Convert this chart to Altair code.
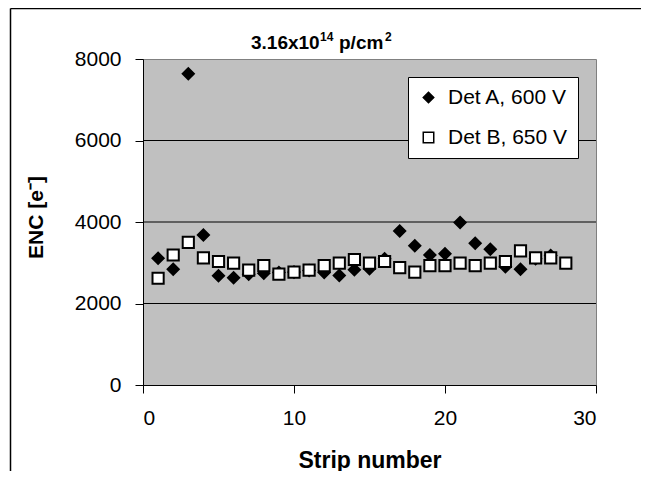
import altair as alt
import pandas as pd

# ---- data ----
strips_a = list(range(1, 28))
enc_a = [3110, 2840, 7640, 3680, 2680, 2630, 2720, 2740, 2760, 2770,
         2810, 2760, 2690, 2830, 2850, 3100, 3780, 3420, 3190, 3220,
         3990, 3480, 3330, 2900, 2840, 3100, 3180]
strips_b = list(range(1, 29))
enc_b = [2620, 3190, 3500, 3120, 3030, 2990, 2820, 2930, 2720, 2770,
         2820, 2930, 2990, 3080, 2990, 3030, 2880, 2770, 2930, 2930,
         2990, 2930, 2990, 3030, 3290, 3120, 3120, 2990]
series_names = ["Det A, 600 V", "Det B, 650 V"]
x_ticks = [0, 10, 20, 30]
y_ticks = [0, 2000, 4000, 6000, 8000]
grid_values = [2000, 4000, 6000]
# title "3.16x10^14 p/cm^2" split into normal / superscript pieces
title_base = "3.16x10"
title_exp = "14"
title_unit = "p/cm"
title_unit_exp = "2"
x_title = "Strip number"
y_title = "ENC [e\u207b]"

FONT = "Liberation Sans"

df = pd.DataFrame({
    "strip": strips_a + strips_b,
    "enc": enc_a + enc_b,
    "series": [series_names[0]] * len(strips_a) + [series_names[1]] * len(strips_b),
})

x_scale = alt.Scale(domain=[0, 30], nice=False, zero=False)
y_scale = alt.Scale(domain=[0, 8000], nice=False)

x_axis = alt.Axis(values=x_ticks, grid=False, domainColor="black", tickColor="black",
                  tickSize=8, labelFontSize=21, labelFont=FONT, labelColor="black",
                  labelPadding=14, title=x_title, titleFont=FONT, titleFontSize=23,
                  titleFontWeight="bold", titleColor="black", titleY=75,
                  titleBaseline="middle", format="d")
y_axis = alt.Axis(values=y_ticks, grid=False, domainColor="black", tickColor="black",
                  tickSize=8, labelFontSize=21, labelFont=FONT, labelColor="black",
                  labelPadding=14, title=y_title, titleFont=FONT, titleFontSize=21,
                  titleFontWeight="bold", titleColor="black", titleX=-107, titleY=158,
                  titleAngle=270, titleAlign="center", titleBaseline="middle",
                  format="d")

grid = alt.Chart(pd.DataFrame({"g": grid_values})).mark_rule(
    color="black", strokeWidth=1
).encode(y=alt.Y("g:Q", scale=y_scale, axis=y_axis, title=y_title))

legend = alt.Legend(orient="none", legendX=265, legendY=18, title=None,
                    fillColor="white", strokeColor="black", padding=10,
                    labelFont=FONT, labelFontSize=21, labelColor="black",
                    labelOffset=9, rowPadding=18, symbolSize=110,
                    symbolStrokeWidth=1.5)

points = alt.Chart(df).mark_point(
    strokeWidth=2, opacity=1, fillOpacity=1, size=125
).encode(
    x=alt.X("strip:Q", scale=x_scale, axis=x_axis, title=x_title),
    y=alt.Y("enc:Q", scale=y_scale, axis=y_axis, title=y_title),
    shape=alt.Shape("series:N", scale=alt.Scale(domain=series_names, range=["diamond", "square"]),
                    legend=legend),
    fill=alt.Fill("series:N", scale=alt.Scale(domain=series_names, range=["black", "white"]),
                  legend=legend),
    stroke=alt.Stroke("series:N", scale=alt.Scale(domain=series_names, range=["black", "black"]),
                      legend=legend),
)

frame_df = pd.DataFrame({"k": [0]})
frame_left = alt.Chart(frame_df).mark_rule(color="black", strokeWidth=1.5).encode(
    x=alt.value(-132.5), y=alt.value(-50.5), y2=alt.value(412))
frame_top = alt.Chart(frame_df).mark_rule(color="black", strokeWidth=1.5).encode(
    x=alt.value(-132.5), x2=alt.value(498), y=alt.value(-50.5))


def title_piece(text, x, y, size):
    return alt.Chart(frame_df).mark_text(
        text=text, font=FONT, fontSize=size, fontWeight="bold", color="black",
        align="left", baseline="alphabetic"
    ).encode(x=alt.value(x), y=alt.value(y))


t1 = title_piece(title_base, 108, -10, 19)
t2 = title_piece(title_exp, 177, -18, 12)
t3 = title_piece(title_unit, 196, -10, 19)
t4 = title_piece(title_unit_exp, 242, -18, 12)

chart = alt.layer(grid, points, frame_left, frame_top, t1, t2, t3, t4).properties(
    width=453, height=326,
    autosize=alt.AutoSizeParams(type="none"),
    padding={"left": 135, "top": 51, "right": 45, "bottom": 86},
).configure_view(
    fill="#C0C0C0", stroke="#808080", strokeWidth=1
)

chart.save("out.html", embed_options={"renderer": "svg", "actions": False})
